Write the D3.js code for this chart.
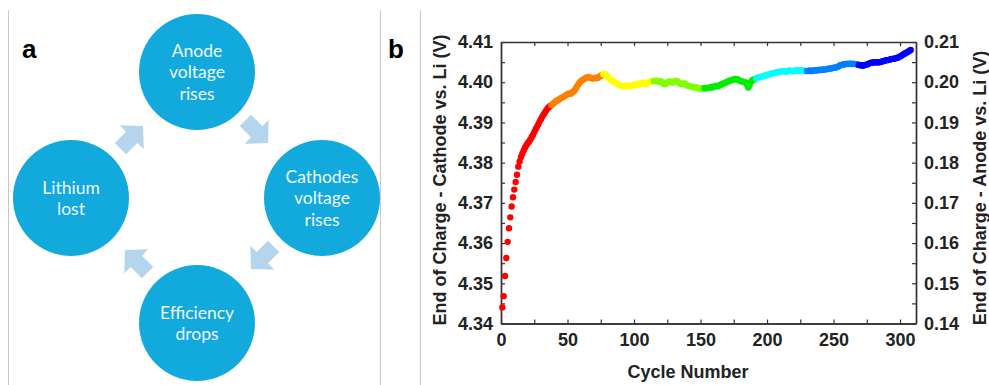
<!DOCTYPE html>
<html>
<head>
<meta charset="utf-8">
<script src="https://d3js.org/d3.v7.min.js"></script>
<style>
  body { margin: 0; background: #fff; }
  svg { display: block; }
</style>
</head>
<body>
<div id="chart"></div>
<script>
var width = 989;
var height = 385;

// panel a: cycle diagram
var nodeLabels = [["Anode", "voltage", "rises"], ["Cathodes", "voltage", "rises"], ["Efficiency", "drops"], ["Lithium", "lost"]];

// panel b: end of charge cathode potential, one value per cycle (1..307)
var voltage = [
  4.3440, 4.3468, 4.3518, 4.3563, 4.3603, 4.3637, 4.3664, 4.3691, 4.3714, 4.3733,
  4.3752, 4.3770, 4.3790, 4.3803, 4.3814, 4.3822, 4.3830, 4.3837, 4.3843, 4.3848,
  4.3852, 4.3857, 4.3863, 4.3869, 4.3876, 4.3883, 4.3889, 4.3895, 4.3902, 4.3908,
  4.3914, 4.3920, 4.3925, 4.3930, 4.3935, 4.3938, 4.3941, 4.3943, 4.3946, 4.3949,
  4.3952, 4.3954, 4.3956, 4.3958, 4.3960, 4.3962, 4.3964, 4.3966, 4.3968, 4.3970,
  4.3972, 4.3971, 4.3973, 4.3976, 4.3978, 4.3983, 4.3989, 4.3994, 4.3999, 4.4002,
  4.4005, 4.4007, 4.4009, 4.4011, 4.4012, 4.4013, 4.4011, 4.4010, 4.4009, 4.4010,
  4.4011, 4.4010, 4.4012, 4.4014, 4.4016, 4.4018, 4.4020, 4.4021, 4.4018, 4.4014,
  4.4010, 4.4007, 4.4005, 4.4003, 4.4001, 4.3999, 4.3997, 4.3995, 4.3993, 4.3992,
  4.3991, 4.3990, 4.3991, 4.3990, 4.3992, 4.3991, 4.3990, 4.3991, 4.3992, 4.3994,
  4.3993, 4.3995, 4.3996, 4.3994, 4.3996, 4.3998, 4.3999, 4.3997, 4.3995, 4.3997,
  4.4000, 4.4002, 4.4003, 4.4002, 4.4003, 4.4004, 4.4003, 4.4002, 4.4001, 4.4003,
  4.4000, 4.3997, 4.3995, 4.3996, 4.3999, 4.4001, 4.4002, 4.4000, 4.3999, 4.4001,
  4.4003, 4.4003, 4.4001, 4.3998, 4.3996, 4.3995, 4.3996, 4.3997, 4.3994, 4.3992,
  4.3991, 4.3990, 4.3989, 4.3988, 4.3987, 4.3988, 4.3987, 4.3986, 4.3985, 4.3984,
  4.3985, 4.3984, 4.3985, 4.3986, 4.3985, 4.3986, 4.3987, 4.3988, 4.3987, 4.3989,
  4.3990, 4.3991, 4.3990, 4.3992, 4.3993, 4.3995, 4.3996, 4.3998, 4.3999, 4.4001,
  4.4002, 4.4004, 4.4005, 4.4006, 4.4007, 4.4008, 4.4008, 4.4007, 4.4005, 4.4003,
  4.4002, 4.4001, 4.4000, 4.3999, 4.3993, 4.3987, 4.3994, 4.4001, 4.4005, 4.4007,
  4.4008, 4.4010, 4.4012, 4.4012, 4.4013, 4.4014, 4.4015, 4.4016, 4.4017, 4.4018,
  4.4019, 4.4020, 4.4021, 4.4022, 4.4023, 4.4023, 4.4024, 4.4025, 4.4026, 4.4026,
  4.4027, 4.4028, 4.4027, 4.4026, 4.4027, 4.4028, 4.4029, 4.4028, 4.4027, 4.4028,
  4.4029, 4.4030, 4.4029, 4.4028, 4.4029, 4.4030, 4.4029, 4.4028, 4.4028, 4.4028,
  4.4028, 4.4029, 4.4028, 4.4028, 4.4029, 4.4030, 4.4029, 4.4030, 4.4031, 4.4030,
  4.4031, 4.4032, 4.4031, 4.4032, 4.4033, 4.4033, 4.4034, 4.4034, 4.4035, 4.4036,
  4.4036, 4.4037, 4.4038, 4.4040, 4.4042, 4.4043, 4.4044, 4.4044, 4.4045, 4.4046,
  4.4045, 4.4046, 4.4046, 4.4045, 4.4046, 4.4045, 4.4045, 4.4044, 4.4043, 4.4042,
  4.4042, 4.4041, 4.4042, 4.4043, 4.4044, 4.4045, 4.4047, 4.4048, 4.4049, 4.4049,
  4.4050, 4.4049, 4.4050, 4.4049, 4.4050, 4.4051, 4.4052, 4.4053, 4.4054, 4.4055,
  4.4055, 4.4056, 4.4057, 4.4058, 4.4058, 4.4059, 4.4060, 4.4061, 4.4062, 4.4064,
  4.4066, 4.4068, 4.4070, 4.4072, 4.4074, 4.4076, 4.4078, 4.4080
];
var segmentStarts = [1, 38, 77, 115, 153, 192, 230, 269];
var segmentColors = ["#ff0000", "#ff8000", "#ffff00", "#80ff00", "#00ee00", "#00ffff", "#0080ff", "#0000ff"];

var xTicks = [0, 50, 100, 150, 200, 250, 300];
var xMinor = [25, 75, 125, 175, 225, 275];
var leftTicks = [4.34, 4.35, 4.36, 4.37, 4.38, 4.39, 4.40, 4.41];
var leftMinor = [4.345, 4.355, 4.365, 4.375, 4.385, 4.395, 4.405];
var rightTicks = [0.14, 0.15, 0.16, 0.17, 0.18, 0.19, 0.20, 0.21];
var rightMinor = [0.145, 0.155, 0.165, 0.175, 0.185, 0.195, 0.205];

var svg = d3.select("#chart")
    .append("svg")
    .attr("width", width)
    .attr("height", height);

// separators
svg.selectAll(".sep")
    .data([8, 380, 420])
    .enter()
    .append("line")
    .attr("x1", function (d) { return d + 0.5; })
    .attr("x2", function (d) { return d + 0.5; })
    .attr("y1", 10)
    .attr("y2", height)
    .attr("stroke", "#c8c8c8")
    .attr("stroke-width", 1);

// ---------- panel a ----------
var panelA = svg.append("g");

panelA.append("text")
    .attr("x", 22)
    .attr("y", 58)
    .attr("font-family", "Liberation Sans, Arial, sans-serif")
    .attr("font-weight", "bold")
    .attr("font-size", 26)
    .text("a");

var nodePos = [[197, 72], [322, 198], [197, 323], [71, 198]];
var nodes = panelA.selectAll(".node")
    .data(nodeLabels)
    .enter()
    .append("g")
    .attr("class", "node")
    .attr("transform", function (d, i) { return "translate(" + nodePos[i][0] + "," + nodePos[i][1] + ")"; });

nodes.append("circle")
    .attr("r", 58)
    .attr("fill", "#12a9dc");

nodes.each(function (d) {
    var g = d3.select(this);
    var lh = 21.5;
    var start = -(d.length - 1) * lh / 2;
    d.forEach(function (line, k) {
        g.append("text")
            .attr("x", 0)
            .attr("y", start + k * lh)
            .attr("dy", "0.36em")
            .attr("text-anchor", "middle")
            .attr("fill", "#eef8fc")
            .attr("font-family", "Lato, 'Open Sans', sans-serif")
            .attr("font-size", 17.5)
            .text(line);
    });
});

var arrowShape = [[-15, -8], [1, -8], [1, -17], [17, 0], [1, 17], [1, 8], [-15, 8]];
var arrowPos = [[256, 131, 45], [263, 257, 135], [137, 262, 225], [131, 138, -45]];
panelA.selectAll(".arrow")
    .data(arrowPos)
    .enter()
    .append("path")
    .attr("class", "arrow")
    .attr("d", "M" + arrowShape.join("L") + "Z")
    .attr("fill", "#b5d5ed")
    .attr("transform", function (d) { return "translate(" + d[0] + "," + d[1] + ") rotate(" + d[2] + ")"; });

// ---------- panel b ----------
svg.append("text")
    .attr("x", 388)
    .attr("y", 58)
    .attr("font-family", "Liberation Sans, Arial, sans-serif")
    .attr("font-weight", "bold")
    .attr("font-size", 26)
    .text("b");

var plotLeft = 501, plotRight = 916, plotTop = 42, plotBottom = 323.5;

var xScale = d3.scaleLinear().domain([0, 312]).range([plotLeft, plotRight]);
var yLeft = d3.scaleLinear().domain([4.34, 4.41]).range([plotBottom, plotTop]);
var yRight = d3.scaleLinear().domain([0.14, 0.21]).range([plotBottom, plotTop]);

var font = "Liberation Sans, Arial, Helvetica, sans-serif";
var axisColor = "#333";

function styleAxis(g) {
    g.selectAll("path.domain").attr("stroke", axisColor).attr("stroke-width", 1.4);
    g.selectAll(".tick line").attr("stroke", axisColor).attr("stroke-width", 1.2);
    g.selectAll(".tick text")
        .attr("fill", "#222")
        .attr("font-family", font)
        .attr("font-weight", "bold")
        .attr("font-size", 18);
}

// bottom
svg.append("g")
    .attr("transform", "translate(0," + plotBottom + ")")
    .call(d3.axisBottom(xScale).tickValues(xTicks).tickSize(-4).tickSizeOuter(0).tickPadding(10).tickFormat(d3.format("d")))
    .call(styleAxis);
svg.append("g")
    .attr("transform", "translate(0," + plotBottom + ")")
    .call(d3.axisBottom(xScale).tickValues(xMinor).tickSize(-4).tickSizeOuter(0).tickFormat(""))
    .call(styleAxis);
// top
svg.append("g")
    .attr("transform", "translate(0," + plotTop + ")")
    .call(d3.axisTop(xScale).tickValues(xTicks.concat(xMinor)).tickSize(-4).tickSizeOuter(0).tickFormat(""))
    .call(styleAxis);
// left
svg.append("g")
    .attr("transform", "translate(" + plotLeft + ",0)")
    .call(d3.axisLeft(yLeft).tickValues(leftTicks).tickSize(-4).tickSizeOuter(0).tickPadding(8).tickFormat(d3.format(".2f")))
    .call(styleAxis);
svg.append("g")
    .attr("transform", "translate(" + plotLeft + ",0)")
    .call(d3.axisLeft(yLeft).tickValues(leftMinor).tickSize(-4).tickSizeOuter(0).tickFormat(""))
    .call(styleAxis);
// right
svg.append("g")
    .attr("transform", "translate(" + plotRight + ",0)")
    .call(d3.axisRight(yRight).tickValues(rightTicks).tickSize(-4).tickSizeOuter(0).tickPadding(8).tickFormat(d3.format(".2f")))
    .call(styleAxis);
svg.append("g")
    .attr("transform", "translate(" + plotRight + ",0)")
    .call(d3.axisRight(yRight).tickValues(rightMinor).tickSize(-4).tickSizeOuter(0).tickFormat(""))
    .call(styleAxis);

// points
function colorFor(cycle) {
    var k = 0;
    for (var i = 0; i < segmentStarts.length; ++i) {
        if (cycle >= segmentStarts[i]) k = i;
    }
    return segmentColors[k];
}

var points = voltage.map(function (v, i) { return { cycle: i + 1, v: v }; });

svg.append("g")
    .selectAll("circle")
    .data(points)
    .enter()
    .append("circle")
    .attr("cx", function (d) { return xScale(d.cycle); })
    .attr("cy", function (d) { return yLeft(d.v); })
    .attr("r", 3.2)
    .attr("fill", function (d) { return colorFor(d.cycle); });

// axis titles
svg.append("text")
    .attr("transform", "translate(446,180) rotate(-90)")
    .attr("text-anchor", "middle")
    .attr("font-family", font)
    .attr("font-weight", "bold")
    .attr("font-size", 18)
    .attr("fill", "#222")
    .text("End of Charge - Cathode vs. Li (V)");

svg.append("text")
    .attr("transform", "translate(986,188) rotate(-90)")
    .attr("text-anchor", "middle")
    .attr("font-family", font)
    .attr("font-weight", "bold")
    .attr("font-size", 18)
    .attr("fill", "#222")
    .text("End of Charge - Anode vs. Li (V)");

svg.append("text")
    .attr("x", 688)
    .attr("y", 378)
    .attr("text-anchor", "middle")
    .attr("font-family", font)
    .attr("font-weight", "bold")
    .attr("font-size", 18)
    .attr("fill", "#222")
    .text("Cycle Number");
</script>
</body>
</html>
